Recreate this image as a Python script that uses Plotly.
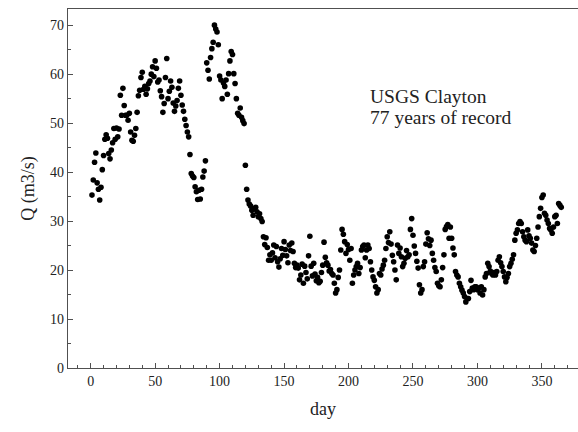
import plotly.graph_objects as go

# Mean daily discharge (m3/s) at USGS Clayton, days 1..365
q_days_001_089 = [
    35.3, 38.4, 42.0, 43.9, 37.8, 36.5, 34.3, 36.9, 40.5, 43.4,
    46.7, 47.6, 46.9, 43.8, 42.7, 44.5, 46.0, 48.9, 46.7, 49.0,
    47.2, 48.8, 55.7, 51.6, 57.1, 53.6, 51.6, 51.6, 50.6, 52.0,
    48.2, 46.5, 46.3, 47.5, 48.9, 52.2, 55.6, 56.7, 59.3, 60.4,
    56.9, 57.5, 55.9, 57.0, 58.1, 58.6, 60.0, 61.5, 59.5, 62.7,
    61.2, 58.4, 58.8, 56.6, 55.4, 52.2, 54.0, 59.3, 63.2, 55.0,
    56.5, 58.6, 57.3, 54.1, 52.4, 53.5, 54.6, 57.1, 58.6, 55.7,
    53.7, 52.4, 50.8, 49.5, 48.2, 47.2, 43.6, 39.7, 39.2, 38.9,
    37.0, 36.0, 34.4, 36.3, 34.5, 36.5, 39.0, 40.2, 42.3,
]
q_days_090_118 = [
    62.3, 60.8, 59.0, 63.4, 65.2, 66.5, 70.0, 69.2, 68.6, 66.0,
    59.6, 58.8, 55.0, 58.2, 57.5, 58.8, 55.9, 60.1, 62.7, 64.6,
    64.0, 60.1, 58.1, 55.0, 52.0, 51.6, 53.1, 51.2, 50.5,
]
q_days_119_133 = [
    49.9, 41.4, 36.5, 34.3, 33.5, 33.1, 32.2, 31.2, 32.5, 32.8,
    31.9, 30.9, 31.5, 30.5, 29.9,
]
q_days_134_177 = [
    26.8, 25.2, 26.6, 24.6, 22.0, 23.1, 22.0, 23.5, 25.1, 22.5,
    24.8, 21.7, 20.6, 22.3, 24.4, 23.0, 25.8, 24.2, 22.9, 21.5,
    25.1, 24.0, 25.5, 23.8, 21.4, 20.5, 21.0, 20.4, 18.0, 19.0,
    21.2, 17.3, 20.8, 19.5, 18.2, 22.9, 26.9, 20.8, 18.8, 21.4,
    19.2, 17.8, 18.5, 17.4,
]
q_days_178_270 = [
    17.7, 19.5, 21.0, 25.7, 22.6, 21.5, 21.0, 19.8, 20.1, 19.3,
    19.0, 17.3, 15.3, 16.0, 18.5, 20.0, 24.1, 28.3, 27.3, 25.8,
    23.4, 25.2, 24.2, 22.0, 24.4, 17.3, 19.0, 20.0, 20.7, 21.4,
    19.3, 20.5, 24.1, 24.8, 25.1, 22.5, 24.1, 25.1, 24.4, 21.7,
    20.0, 18.6, 17.9, 16.6, 15.3, 16.0, 19.3, 19.0, 20.2, 21.0,
    22.0, 24.4, 26.8, 25.6, 27.8, 25.3, 23.0, 21.7, 20.0, 18.0,
    25.1, 23.4, 24.5, 22.7, 20.7, 21.4, 22.4, 24.0, 22.7, 23.1,
    28.3, 30.5, 27.1, 24.9, 23.4, 21.8, 20.4, 17.0, 15.3, 16.0,
    20.7, 21.7, 25.3, 27.6, 26.4, 25.0, 26.1, 23.4, 22.0, 20.5,
    19.7, 17.3, 16.8,
]
q_days_271_365 = [
    16.6, 18.0, 20.5, 23.1, 28.3, 28.9, 29.3, 26.5, 28.8, 26.5,
    24.5, 23.1, 19.7, 19.0, 18.6, 17.3, 16.6, 15.9, 15.3, 14.6,
    13.5, 14.2, 14.2, 15.6, 17.9, 16.3, 16.0, 16.6, 16.6, 16.0,
    16.3, 15.3, 16.6, 14.9, 16.0, 18.6, 19.3, 21.4, 20.7, 19.8,
    19.3, 19.0, 19.5, 19.0, 19.7, 22.0, 22.7, 21.5, 20.7, 19.7,
    18.6, 17.6, 18.5, 19.3, 20.7, 21.4, 22.2, 23.1, 26.1, 27.5,
    28.2, 29.5, 29.9, 29.5, 27.8, 26.8, 26.1, 25.8, 28.2, 27.0,
    26.5, 25.5, 24.1, 23.8, 25.0, 26.5, 28.8, 30.9, 32.6, 34.8,
    35.3, 31.6, 31.2, 30.2, 29.5, 28.5, 28.2, 27.5, 28.8, 30.9,
    31.2, 29.5, 33.6, 33.2, 32.8,
]

flow = (q_days_001_089 + q_days_090_118 + q_days_119_133
        + q_days_134_177 + q_days_178_270 + q_days_271_365)
days = list(range(1, len(flow) + 1))

x_ticks = [0, 50, 100, 150, 200, 250, 300, 350]
y_ticks = [0, 10, 20, 30, 40, 50, 60, 70]
label_lines = ["USGS Clayton", "77 years of record"]

SERIF = "Liberation Serif, Times New Roman, serif"
AXIS_COLOR = "#505050"

fig = go.Figure()
fig.add_trace(go.Scatter(
    x=days, y=flow, mode="markers",
    marker=dict(color="black", size=5.6, line=dict(width=0)),
    showlegend=False, hoverinfo="x+y",
))

fig.add_annotation(x=215, y=55.5, xref="x", yref="y", text=label_lines[0],
                   showarrow=False, xanchor="left", yanchor="middle",
                   font=dict(family=SERIF, size=19.5, color="#222"))
fig.add_annotation(x=215, y=51.2, xref="x", yref="y", text=label_lines[1],
                   showarrow=False, xanchor="left", yanchor="middle",
                   font=dict(family=SERIF, size=19.5, color="#222"))

fig.update_xaxes(
    range=[-17.6, 378.0], tickvals=x_ticks, ticktext=[str(v) for v in x_ticks],
    ticks="inside", ticklen=5, tickwidth=1.2, tickcolor=AXIS_COLOR,
    minor=dict(dtick=10, tick0=0, ticks="inside", ticklen=3, tickwidth=1.1,
               tickcolor=AXIS_COLOR, showgrid=False),
    showline=True, linecolor=AXIS_COLOR, linewidth=1.4, mirror=True,
    showgrid=False, zeroline=False,
    tickfont=dict(family=SERIF, size=14, color="#222"),
    title=dict(text="day", font=dict(family=SERIF, size=18, color="#222"),
               standoff=14),
)
fig.update_yaxes(
    range=[0, 73.3], tickvals=y_ticks, ticktext=[str(v) for v in y_ticks],
    ticks="inside", ticklen=5, tickwidth=1.2, tickcolor=AXIS_COLOR,
    minor=dict(dtick=5, tick0=0, ticks="inside", ticklen=3, tickwidth=1.1,
               tickcolor=AXIS_COLOR, showgrid=False),
    showline=True, linecolor=AXIS_COLOR, linewidth=1.4, mirror=False,
    showgrid=False, zeroline=False,
    tickfont=dict(family=SERIF, size=14, color="#222"),
    title=dict(text="Q (m3/s)", font=dict(family=SERIF, size=18, color="#222"),
               standoff=10),
)

fig.update_layout(
    width=578, height=432,
    margin=dict(l=68, r=0, t=9, b=64),
    paper_bgcolor="white", plot_bgcolor="white",
)

fig.write_html("out.html")
